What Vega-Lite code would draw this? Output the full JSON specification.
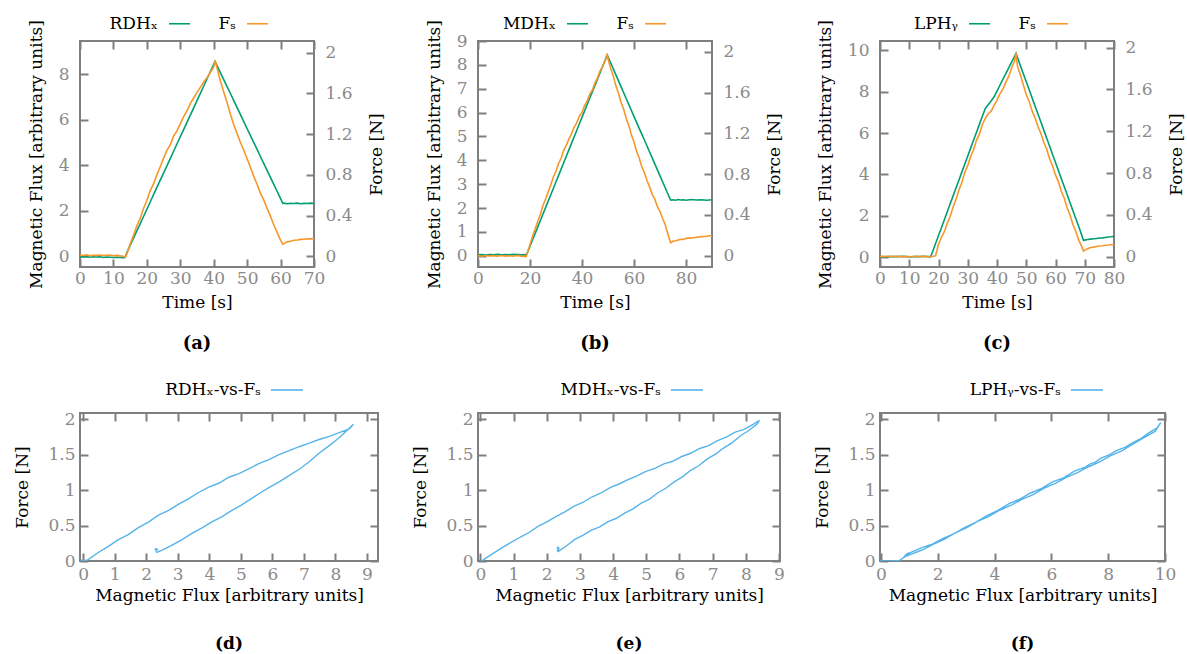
{
"$schema": "https://vega.github.io/schema/vega-lite/v6.json",
"background": "white",
"padding": {"left": 12, "top": 11, "right": 2, "bottom": 0},
"bounds": "flush",
"columns": 3,
"spacing": {"row": 146, "column": 100},
"resolve": {"scale": {"color": "independent", "x": "independent", "y": "independent"}, "legend": {"color": "independent"}},
"config": {
  "font": "DejaVu Serif",
  "view": {"stroke": "#7f7f7f", "strokeWidth": 2},
  "style": {"guide-title": {"font": "DejaVu Serif"}, "guide-label": {"font": "DejaVu Serif"}},
  "axis": {"domain": false, "grid": false, "offset": -8, "tickSize": 8, "tickWidth": 2, "tickColor": "#7f7f7f", "labelFlush": false, "labelFont": "DejaVu Serif", "labelFontSize": 17, "labelColor": "#8a8a8a", "titleFont": "DejaVu Serif", "titleFontSize": 17, "titleFontWeight": "normal", "titleColor": "#000000", "labelPadding": 5, "titlePadding": 8},
  "legend": {"orient": "none", "direction": "horizontal", "symbolType": "stroke", "symbolStrokeWidth": 1.6, "labelFont": "DejaVu Serif", "labelFontSize": 17, "labelColor": "#000000", "labelAlign": "right", "padding": 0, "title": null},
  "title": {"orient": "bottom", "anchor": "middle", "font": "DejaVu Serif", "fontSize": 18, "fontWeight": "bold", "color": "#000000", "offset": 25}
},
"datasets": {
"a": [
{"t":0,"flux":-0.02,"force":0.012},{"t":1,"flux":-0.03,"force":0.008},{"t":2,"flux":-0.01,"force":0.014},{"t":3,"flux":-0.04,"force":0.006},{"t":4,"flux":-0.02,"force":0.011},{"t":5,"flux":-0.03,"force":0.009},{"t":6,"flux":-0.02,"force":0.013},{"t":7,"flux":-0.05,"force":0.007},{"t":8,"flux":-0.03,"force":0.010},{"t":9,"flux":-0.04,"force":0.012},{"t":10,"flux":-0.05,"force":0.006},{"t":11,"flux":-0.04,"force":0.009},{"t":12,"flux":-0.05,"force":0.004},{"t":13,"flux":-0.06,"force":0.000},{"t":13.5,"flux":-0.05,"force":-0.008},
{"t":14,"flux":0.16,"force":0.020},{"t":15,"flux":0.48,"force":0.120},{"t":16,"flux":0.80,"force":0.205},{"t":17,"flux":1.12,"force":0.300},{"t":18,"flux":1.43,"force":0.372},{"t":19,"flux":1.75,"force":0.470},{"t":20,"flux":2.07,"force":0.548},{"t":21,"flux":2.39,"force":0.645},{"t":22,"flux":2.71,"force":0.712},{"t":23,"flux":3.03,"force":0.800},{"t":24,"flux":3.35,"force":0.880},{"t":25,"flux":3.66,"force":0.965},{"t":26,"flux":3.98,"force":1.040},{"t":27,"flux":4.30,"force":1.095},{"t":28,"flux":4.62,"force":1.180},{"t":29,"flux":4.94,"force":1.232},{"t":30,"flux":5.26,"force":1.300},{"t":31,"flux":5.57,"force":1.372},{"t":32,"flux":5.89,"force":1.428},{"t":33,"flux":6.21,"force":1.500},{"t":34,"flux":6.53,"force":1.555},{"t":35,"flux":6.85,"force":1.610},{"t":36,"flux":7.17,"force":1.660},{"t":37,"flux":7.48,"force":1.712},{"t":38,"flux":7.81,"force":1.755},{"t":39,"flux":8.12,"force":1.808},{"t":40,"flux":8.44,"force":1.860},{"t":40.4,"flux":8.57,"force":1.925},
{"t":41,"flux":8.39,"force":1.850},{"t":42,"flux":8.08,"force":1.722},{"t":43,"flux":7.77,"force":1.615},{"t":44,"flux":7.46,"force":1.510},{"t":45,"flux":7.16,"force":1.395},{"t":46,"flux":6.85,"force":1.292},{"t":47,"flux":6.54,"force":1.205},{"t":48,"flux":6.23,"force":1.118},{"t":49,"flux":5.92,"force":1.042},{"t":50,"flux":5.61,"force":0.958},{"t":51,"flux":5.31,"force":0.872},{"t":52,"flux":5.00,"force":0.785},{"t":53,"flux":4.69,"force":0.705},{"t":54,"flux":4.38,"force":0.618},{"t":55,"flux":4.08,"force":0.552},{"t":56,"flux":3.77,"force":0.468},{"t":57,"flux":3.46,"force":0.392},{"t":58,"flux":3.15,"force":0.305},{"t":59,"flux":2.85,"force":0.232},{"t":60,"flux":2.54,"force":0.160},{"t":60.7,"flux":2.32,"force":0.118},
{"t":61,"flux":2.34,"force":0.125},{"t":62,"flux":2.31,"force":0.142},{"t":63,"flux":2.33,"force":0.148},{"t":64,"flux":2.32,"force":0.157},{"t":65,"flux":2.34,"force":0.161},{"t":66,"flux":2.31,"force":0.166},{"t":67,"flux":2.33,"force":0.168},{"t":68,"flux":2.32,"force":0.172},{"t":69,"flux":2.34,"force":0.171},{"t":70,"flux":2.32,"force":0.176}
],
"b": [
{"t":0,"flux":0.04,"force":0.002},{"t":1.5,"flux":0.05,"force":-0.004},{"t":3,"flux":0.03,"force":0.003},{"t":4.5,"flux":0.05,"force":-0.002},{"t":6,"flux":0.04,"force":0.001},{"t":7.5,"flux":0.06,"force":-0.005},{"t":9,"flux":0.04,"force":0.002},{"t":10.5,"flux":0.05,"force":-0.003},{"t":12,"flux":0.04,"force":0.000},{"t":13.5,"flux":0.06,"force":-0.004},{"t":15,"flux":0.05,"force":0.002},{"t":16.5,"flux":0.04,"force":-0.003},{"t":18,"flux":0.05,"force":-0.006},{"t":18.5,"flux":0.02,"force":-0.008},
{"t":19,"flux":0.13,"force":0.030},{"t":20,"flux":0.40,"force":0.110},{"t":21,"flux":0.67,"force":0.192},{"t":22,"flux":0.94,"force":0.265},{"t":23,"flux":1.21,"force":0.338},{"t":24,"flux":1.48,"force":0.405},{"t":25,"flux":1.75,"force":0.492},{"t":26,"flux":2.02,"force":0.556},{"t":27,"flux":2.29,"force":0.628},{"t":28,"flux":2.56,"force":0.695},{"t":29,"flux":2.83,"force":0.772},{"t":30,"flux":3.10,"force":0.828},{"t":31,"flux":3.37,"force":0.905},{"t":32,"flux":3.64,"force":0.958},{"t":33,"flux":3.91,"force":1.035},{"t":34,"flux":4.18,"force":1.085},{"t":35,"flux":4.45,"force":1.145},{"t":36,"flux":4.72,"force":1.198},{"t":37,"flux":4.99,"force":1.262},{"t":38,"flux":5.26,"force":1.305},{"t":39,"flux":5.53,"force":1.368},{"t":40,"flux":5.80,"force":1.405},{"t":41,"flux":6.07,"force":1.472},{"t":42,"flux":6.34,"force":1.518},{"t":43,"flux":6.61,"force":1.585},{"t":44,"flux":6.88,"force":1.625},{"t":45,"flux":7.15,"force":1.695},{"t":46,"flux":7.41,"force":1.745},{"t":47,"flux":7.68,"force":1.815},{"t":48,"flux":7.95,"force":1.855},{"t":49,"flux":8.22,"force":1.925},{"t":49.7,"flux":8.41,"force":1.980},
{"t":50,"flux":8.34,"force":1.930},{"t":51,"flux":8.09,"force":1.838},{"t":52,"flux":7.84,"force":1.765},{"t":53,"flux":7.59,"force":1.668},{"t":54,"flux":7.34,"force":1.595},{"t":55,"flux":7.09,"force":1.505},{"t":56,"flux":6.84,"force":1.438},{"t":57,"flux":6.59,"force":1.345},{"t":58,"flux":6.34,"force":1.278},{"t":59,"flux":6.09,"force":1.185},{"t":60,"flux":5.84,"force":1.115},{"t":61,"flux":5.59,"force":1.025},{"t":62,"flux":5.34,"force":0.958},{"t":63,"flux":5.10,"force":0.872},{"t":64,"flux":4.85,"force":0.815},{"t":65,"flux":4.60,"force":0.735},{"t":66,"flux":4.35,"force":0.675},{"t":67,"flux":4.10,"force":0.602},{"t":68,"flux":3.85,"force":0.555},{"t":69,"flux":3.60,"force":0.482},{"t":70,"flux":3.35,"force":0.435},{"t":71,"flux":3.10,"force":0.365},{"t":72,"flux":2.85,"force":0.305},{"t":73,"flux":2.60,"force":0.215},{"t":74.1,"flux":2.33,"force":0.128},
{"t":75,"flux":2.35,"force":0.142},{"t":76,"flux":2.33,"force":0.148},{"t":77,"flux":2.36,"force":0.155},{"t":78,"flux":2.34,"force":0.162},{"t":79,"flux":2.35,"force":0.160},{"t":80,"flux":2.33,"force":0.171},{"t":82,"flux":2.36,"force":0.175},{"t":84,"flux":2.34,"force":0.182},{"t":86,"flux":2.35,"force":0.188},{"t":88,"flux":2.33,"force":0.192},{"t":90,"flux":2.35,"force":0.200}
],
"c": [
{"t":0,"flux":0.02,"force":0.002},{"t":1.5,"flux":0.03,"force":-0.002},{"t":3,"flux":0.01,"force":0.004},{"t":4.5,"flux":0.03,"force":0.000},{"t":6,"flux":0.02,"force":0.003},{"t":7.5,"flux":0.04,"force":-0.003},{"t":9,"flux":0.02,"force":0.002},{"t":10.5,"flux":0.01,"force":-0.002},{"t":12,"flux":0.03,"force":0.003},{"t":13.5,"flux":0.02,"force":-0.001},{"t":15,"flux":0.04,"force":0.002},{"t":16.5,"flux":0.02,"force":-0.002},{"t":17.3,"flux":0.01,"force":0.001},
{"t":18,"flux":0.27,"force":0.000},{"t":19,"flux":0.66,"force":0.008},{"t":19.5,"flux":0.85,"force":0.060},{"t":20,"flux":1.04,"force":0.118},{"t":21,"flux":1.42,"force":0.185},{"t":22,"flux":1.81,"force":0.238},{"t":23,"flux":2.19,"force":0.318},{"t":24,"flux":2.58,"force":0.385},{"t":25,"flux":2.96,"force":0.475},{"t":26,"flux":3.35,"force":0.548},{"t":27,"flux":3.73,"force":0.638},{"t":28,"flux":4.12,"force":0.712},{"t":29,"flux":4.50,"force":0.805},{"t":30,"flux":4.89,"force":0.872},{"t":31,"flux":5.27,"force":0.958},{"t":32,"flux":5.66,"force":1.022},{"t":33,"flux":6.04,"force":1.115},{"t":34,"flux":6.43,"force":1.172},{"t":35,"flux":6.81,"force":1.265},{"t":36,"flux":7.19,"force":1.322},{"t":37,"flux":7.37,"force":1.368},{"t":38,"flux":7.55,"force":1.392},{"t":39,"flux":7.75,"force":1.448},{"t":40,"flux":8.03,"force":1.495},{"t":41,"flux":8.31,"force":1.558},{"t":42,"flux":8.59,"force":1.602},{"t":43,"flux":8.87,"force":1.668},{"t":44,"flux":9.15,"force":1.725},{"t":45,"flux":9.43,"force":1.805},{"t":46,"flux":9.71,"force":1.872},{"t":46.5,"flux":9.85,"force":1.950},
{"t":47,"flux":9.65,"force":1.825},{"t":48,"flux":9.26,"force":1.738},{"t":49,"flux":8.87,"force":1.645},{"t":50,"flux":8.48,"force":1.552},{"t":51,"flux":8.09,"force":1.485},{"t":52,"flux":7.70,"force":1.395},{"t":53,"flux":7.31,"force":1.328},{"t":54,"flux":6.92,"force":1.245},{"t":55,"flux":6.53,"force":1.178},{"t":56,"flux":6.14,"force":1.095},{"t":57,"flux":5.75,"force":1.028},{"t":58,"flux":5.36,"force":0.935},{"t":59,"flux":4.96,"force":0.868},{"t":60,"flux":4.57,"force":0.782},{"t":61,"flux":4.18,"force":0.715},{"t":62,"flux":3.79,"force":0.625},{"t":63,"flux":3.40,"force":0.558},{"t":64,"flux":3.01,"force":0.465},{"t":65,"flux":2.62,"force":0.395},{"t":66,"flux":2.23,"force":0.305},{"t":67,"flux":1.84,"force":0.235},{"t":68,"flux":1.45,"force":0.155},{"t":69,"flux":1.05,"force":0.092},{"t":69.6,"flux":0.80,"force":0.052},
{"t":70,"flux":0.82,"force":0.062},{"t":71,"flux":0.85,"force":0.074},{"t":72,"flux":0.87,"force":0.086},{"t":73,"flux":0.89,"force":0.090},{"t":74,"flux":0.90,"force":0.096},{"t":75,"flux":0.92,"force":0.101},{"t":76,"flux":0.93,"force":0.104},{"t":77,"flux":0.95,"force":0.108},{"t":78,"flux":0.97,"force":0.110},{"t":79,"flux":0.98,"force":0.113},{"t":80,"flux":1.00,"force":0.116}
]
},
"concat": [
{
 "width": 234, "height": 226,
 "data": {"name": "a"},
 "title": {"text": "(a)"},
 "layer": [
  {"mark": {"type": "line", "strokeWidth": 1.6, "clip": true},
   "encoding": {
    "x": {"field": "t", "type": "quantitative", "scale": {"domain": [0, 70], "nice": false, "zero": false}, "axis": {"orient": "bottom", "title": "Time [s]", "titleFont": "DejaVu Serif", "values": [0,10,20,30,40,50,60,70], "labelPadding": 3, "titlePadding": 8}},
    "y": {"field": "flux", "type": "quantitative", "scale": {"domain": [-0.47, 9.47], "nice": false, "zero": false}, "axis": {"orient": "left", "title": "Magnetic Flux [arbitrary units]", "titleFont": "DejaVu Serif", "values": [0,2,4,6,8], "labelPadding": 11, "titlePadding": 13}},
    "color": {"datum": "RDHₓ", "type": "nominal", "scale": {"domain": ["RDHₓ", "Fₛ"], "range": ["#009e73", "#f7962b"]}, "legend": {"legendX": 88, "legendY": -29, "symbolSize": 441, "labelOffset": -33, "columnPadding": 24}}
   }},
  {"mark": {"type": "line", "strokeWidth": 1.6, "clip": true},
   "encoding": {
    "x": {"field": "t", "type": "quantitative", "axis": {"orient": "top", "title": null, "labels": false, "values": [0,10,20,30,40,50,60,70]}},
    "y": {"field": "force", "type": "quantitative", "scale": {"domain": [-0.105, 2.115], "nice": false, "zero": false}, "axis": {"orient": "right", "title": "Force [N]", "titleFont": "DejaVu Serif", "values": [0,0.4,0.8,1.2,1.6,2], "format": "~g", "labelPadding": 11, "titleAngle": 270, "titleBaseline": "top", "titlePadding": 16}},
    "color": {"datum": "Fₛ", "type": "nominal"}
   }}
 ],
 "resolve": {"scale": {"y": "independent"}, "axis": {"x": "independent"}}
},
{
 "width": 234, "height": 226,
 "data": {"name": "b"},
 "title": {"text": "(b)"},
 "layer": [
  {"mark": {"type": "line", "strokeWidth": 1.6, "clip": true},
   "encoding": {
    "x": {"field": "t", "type": "quantitative", "scale": {"domain": [0, 90], "nice": false, "zero": false}, "axis": {"orient": "bottom", "title": "Time [s]", "titleFont": "DejaVu Serif", "values": [0,20,40,60,80], "labelPadding": 3, "titlePadding": 8}},
    "y": {"field": "flux", "type": "quantitative", "scale": {"domain": [-0.47, 9.0], "nice": false, "zero": false}, "axis": {"orient": "left", "title": "Magnetic Flux [arbitrary units]", "titleFont": "DejaVu Serif", "values": [0,1,2,3,4,5,6,7,8,9], "labelPadding": 11, "titlePadding": 13}},
    "color": {"datum": "MDHₓ", "type": "nominal", "scale": {"domain": ["MDHₓ", "Fₛ"], "range": ["#009e73", "#f7962b"]}, "legend": {"legendX": 88, "legendY": -29, "symbolSize": 441, "labelOffset": -33, "columnPadding": 24}}
   }},
  {"mark": {"type": "line", "strokeWidth": 1.6, "clip": true},
   "encoding": {
    "x": {"field": "t", "type": "quantitative", "axis": {"orient": "top", "title": null, "labels": false, "values": [0,20,40,60,80]}},
    "y": {"field": "force", "type": "quantitative", "scale": {"domain": [-0.11, 2.105], "nice": false, "zero": false}, "axis": {"orient": "right", "title": "Force [N]", "titleFont": "DejaVu Serif", "values": [0,0.4,0.8,1.2,1.6,2], "format": "~g", "labelPadding": 11, "titleAngle": 270, "titleBaseline": "top", "titlePadding": 16}},
    "color": {"datum": "Fₛ", "type": "nominal"}
   }}
 ],
 "resolve": {"scale": {"y": "independent"}, "axis": {"x": "independent"}}
},
{
 "width": 234, "height": 226,
 "data": {"name": "c"},
 "title": {"text": "(c)"},
 "layer": [
  {"mark": {"type": "line", "strokeWidth": 1.6, "clip": true},
   "encoding": {
    "x": {"field": "t", "type": "quantitative", "scale": {"domain": [0, 80], "nice": false, "zero": false}, "axis": {"orient": "bottom", "title": "Time [s]", "titleFont": "DejaVu Serif", "values": [0,10,20,30,40,50,60,70,80], "labelPadding": 3, "titlePadding": 8}},
    "y": {"field": "flux", "type": "quantitative", "scale": {"domain": [-0.48, 10.45], "nice": false, "zero": false}, "axis": {"orient": "left", "title": "Magnetic Flux [arbitrary units]", "titleFont": "DejaVu Serif", "values": [0,2,4,6,8,10], "labelPadding": 11, "titlePadding": 13}},
    "color": {"datum": "LPHᵧ", "type": "nominal", "scale": {"domain": ["LPHᵧ", "Fₛ"], "range": ["#009e73", "#f7962b"]}, "legend": {"legendX": 88, "legendY": -29, "symbolSize": 441, "labelOffset": -33, "columnPadding": 24}}
   }},
  {"mark": {"type": "line", "strokeWidth": 1.6, "clip": true},
   "encoding": {
    "x": {"field": "t", "type": "quantitative", "axis": {"orient": "top", "title": null, "labels": false, "values": [0,10,20,30,40,50,60,70,80]}},
    "y": {"field": "force", "type": "quantitative", "scale": {"domain": [-0.1, 2.064], "nice": false, "zero": false}, "axis": {"orient": "right", "title": "Force [N]", "titleFont": "DejaVu Serif", "values": [0,0.4,0.8,1.2,1.6,2], "format": "~g", "labelPadding": 11, "titleAngle": 270, "titleBaseline": "top", "titlePadding": 16}},
    "color": {"datum": "Fₛ", "type": "nominal"}
   }}
 ],
 "resolve": {"scale": {"y": "independent"}, "axis": {"x": "independent"}}
},
{
 "width": 298, "height": 148,
 "data": {"name": "a"},
 "title": {"text": "(d)", "offset": 33, "fontSize": 17},
 "layer": [
  {"mark": {"type": "line", "strokeWidth": 1.4, "clip": true},
   "encoding": {
    "x": {"field": "flux", "type": "quantitative", "scale": {"domain": [-0.1, 9.35], "nice": false, "zero": false}, "axis": {"orient": "bottom", "title": "Magnetic Flux [arbitrary units]", "titleFont": "DejaVu Serif", "values": [0,1,2,3,4,5,6,7,8,9], "labelPadding": 5, "titlePadding": 5}},
    "y": {"field": "force", "type": "quantitative", "scale": {"domain": [0, 2.085], "nice": false, "zero": false}, "axis": {"orient": "left", "title": "Force [N]", "titleFont": "DejaVu Serif", "values": [0,0.5,1,1.5,2], "format": "~g", "labelPadding": 5, "titlePadding": 16}},
    "order": {"field": "t", "type": "quantitative"},
    "color": {"datum": "RDHₓ-vs-Fₛ", "type": "nominal", "scale": {"range": ["#56b4e9"]}, "legend": {"legendX": 190, "legendY": -40, "symbolSize": 1024, "labelOffset": -43}}
   }},
  {"mark": {"type": "line", "opacity": 0},
   "encoding": {
    "x": {"field": "flux", "type": "quantitative", "axis": {"orient": "top", "title": null, "labels": false, "values": [0,1,2,3,4,5,6,7,8,9]}},
    "y": {"field": "force", "type": "quantitative", "axis": {"orient": "right", "title": null, "labels": false, "values": [0,0.5,1,1.5,2]}},
    "order": {"field": "t", "type": "quantitative"}
   }}
 ],
 "resolve": {"axis": {"x": "independent", "y": "independent"}}
},
{
 "width": 302, "height": 148,
 "data": {"name": "b"},
 "title": {"text": "(e)", "offset": 33, "fontSize": 17},
 "layer": [
  {"mark": {"type": "line", "strokeWidth": 1.4, "clip": true},
   "encoding": {
    "x": {"field": "flux", "type": "quantitative", "scale": {"domain": [-0.07, 9.03], "nice": false, "zero": false}, "axis": {"orient": "bottom", "title": "Magnetic Flux [arbitrary units]", "titleFont": "DejaVu Serif", "values": [0,1,2,3,4,5,6,7,8,9], "labelPadding": 5, "titlePadding": 5}},
    "y": {"field": "force", "type": "quantitative", "scale": {"domain": [0, 2.085], "nice": false, "zero": false}, "axis": {"orient": "left", "title": "Force [N]", "titleFont": "DejaVu Serif", "values": [0,0.5,1,1.5,2], "format": "~g", "labelPadding": 5, "titlePadding": 16}},
    "order": {"field": "t", "type": "quantitative"},
    "color": {"datum": "MDHₓ-vs-Fₛ", "type": "nominal", "scale": {"range": ["#56b4e9"]}, "legend": {"legendX": 192, "legendY": -40, "symbolSize": 1024, "labelOffset": -43}}
   }},
  {"mark": {"type": "line", "opacity": 0},
   "encoding": {
    "x": {"field": "flux", "type": "quantitative", "axis": {"orient": "top", "title": null, "labels": false, "values": [0,1,2,3,4,5,6,7,8,9]}},
    "y": {"field": "force", "type": "quantitative", "axis": {"orient": "right", "title": null, "labels": false, "values": [0,0.5,1,1.5,2]}},
    "order": {"field": "t", "type": "quantitative"}
   }}
 ],
 "resolve": {"axis": {"x": "independent", "y": "independent"}}
},
{
 "width": 285, "height": 148,
 "data": {"name": "c"},
 "title": {"text": "(f)", "offset": 33, "fontSize": 17},
 "layer": [
  {"mark": {"type": "line", "strokeWidth": 1.4, "clip": true},
   "encoding": {
    "x": {"field": "flux", "type": "quantitative", "scale": {"domain": [-0.03, 10.0], "nice": false, "zero": false}, "axis": {"orient": "bottom", "title": "Magnetic Flux [arbitrary units]", "titleFont": "DejaVu Serif", "values": [0,2,4,6,8,10], "labelPadding": 5, "titlePadding": 5}},
    "y": {"field": "force", "type": "quantitative", "scale": {"domain": [0, 2.085], "nice": false, "zero": false}, "axis": {"orient": "left", "title": "Force [N]", "titleFont": "DejaVu Serif", "values": [0,0.5,1,1.5,2], "format": "~g", "labelPadding": 5, "titlePadding": 16}},
    "order": {"field": "t", "type": "quantitative"},
    "color": {"datum": "LPHᵧ-vs-Fₛ", "type": "nominal", "scale": {"range": ["#56b4e9"]}, "legend": {"legendX": 190, "legendY": -40, "symbolSize": 1024, "labelOffset": -43}}
   }},
  {"mark": {"type": "line", "opacity": 0},
   "encoding": {
    "x": {"field": "flux", "type": "quantitative", "axis": {"orient": "top", "title": null, "labels": false, "values": [0,2,4,6,8,10]}},
    "y": {"field": "force", "type": "quantitative", "axis": {"orient": "right", "title": null, "labels": false, "values": [0,0.5,1,1.5,2]}},
    "order": {"field": "t", "type": "quantitative"}
   }}
 ],
 "resolve": {"axis": {"x": "independent", "y": "independent"}}
}
]
}
